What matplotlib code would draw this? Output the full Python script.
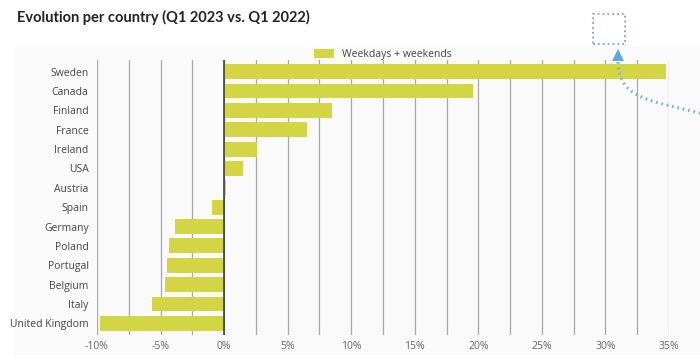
import numpy as np
import matplotlib
matplotlib.use("Agg")
import matplotlib.pyplot as plt
from matplotlib.patches import Rectangle, Polygon, PathPatch
from matplotlib.path import Path

countries = ["Sweden", "Canada", "Finland", "France", "Ireland", "USA", "Austria",
             "Spain", "Germany", "Poland", "Portugal", "Belgium", "Italy", "United Kingdom"]
evolution = [34.75, 19.55, 8.5, 6.5, 2.6, 1.45, 0.15,
             -0.95, -3.85, -4.3, -4.5, -4.65, -5.7, -9.8]
xticks = [-10, -5, 0, 5, 10, 15, 20, 25, 30, 35]
xticklabels = [f"{t}%" for t in xticks]

W, H = 700, 362
fig = plt.figure(figsize=(7, 3.62), dpi=100)
fig.patch.set_facecolor("white")

# faint panel behind the chart
fig.add_artist(Rectangle((15 / W, 1 - 355 / H), (W - 15) / W, (355 - 47) / H,
                         transform=fig.transFigure, facecolor="#fafafa",
                         edgecolor="none", zorder=0))

ax = fig.add_axes([97 / W, 1 - 335 / H, (669 - 97) / W, (335 - 60) / H])
ax.set_facecolor("none")
y = np.arange(len(countries))
ax.barh(y, evolution, height=0.77, color="#d3d545", zorder=3,
        label="Weekdays + weekends")
ax.set_ylim(len(countries) - 0.4, -0.6)
ax.set_xlim(-10, 35)

for g in np.arange(-10, 35.1, 2.5):
    ax.axvline(g, color="#a8a8a8", lw=0.9, zorder=1)
ax.axvline(0, color="#333333", lw=1.1, zorder=4)

for s in ax.spines.values():
    s.set_visible(False)
ax.set_yticks(y)
ax.set_yticklabels(countries, fontsize=7.5, color="#444444", family="Open Sans")
ax.set_xticks(xticks)
ax.set_xticklabels(xticklabels, fontsize=7.5, color="#666666", family="Open Sans")
ax.tick_params(axis="y", length=0, pad=6)
ax.tick_params(axis="x", length=0, pad=4)

ax.legend(loc="lower center", bbox_to_anchor=(0.5, 0.985), frameon=False,
          prop={"family": "Open Sans", "size": 7.5},
          handlelength=1.9, handleheight=0.9, borderaxespad=0)
for t in ax.get_legend().get_texts():
    t.set_color("#444444")

fig.text(17 / W, 1 - 17 / H, "Evolution per country (Q1 2023 vs. Q1 2022)",
         fontsize=10.5, fontweight="bold", color="#222222", family="Lato",
         va="center", ha="left")

# decoration: dotted box with arrow and curve
blue = "#7db7d6"
fig.add_artist(Rectangle((593 / W, 1 - 44 / H), 32 / W, 30 / H,
                         transform=fig.transFigure, fill=False, edgecolor=blue,
                         lw=1.4, linestyle=(0, (1, 1.5)), zorder=6))
fig.add_artist(Polygon([(612 / W, 1 - 61 / H), (624 / W, 1 - 61 / H), (618 / W, 1 - 49 / H)],
                       closed=True, transform=fig.transFigure, facecolor="#5aa9e6",
                       edgecolor="none", zorder=6))
verts = [(618 / W, 1 - 62 / H), (619 / W, 1 - 97 / H), (645 / W, 1 - 100 / H), (700 / W, 1 - 113 / H)]
path = Path(verts, [Path.MOVETO, Path.CURVE4, Path.CURVE4, Path.CURVE4])
fig.add_artist(PathPatch(path, transform=fig.transFigure, fill=False, edgecolor=blue,
                         lw=2.2, linestyle=(0, (0.6, 1.2)), zorder=6))

fig.savefig("out.png", dpi=100)
